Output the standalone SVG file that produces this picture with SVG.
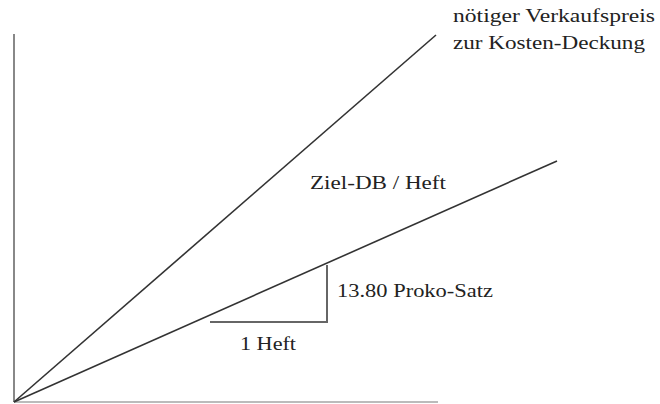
<svg xmlns="http://www.w3.org/2000/svg" width="660" height="404" viewBox="0 0 660 404">
<style>
.ax{stroke:#888;stroke-width:2;fill:none}
.ln{stroke:#333;stroke-width:1.6;fill:none}
.tri{stroke:#666;stroke-width:2;fill:none}
.t{font-size:18px;fill:#222}
</style>
<rect width="660" height="404" fill="#fff"/>
<g id="connectors">
<path class="ax" d="M14 34 V402"/>
<path class="ax" d="M14 402 H438" stroke="#bbb" style="stroke:#bbb"/>
<path class="ln" d="M14 402 L436 35"/>
<path class="ln" d="M14 402 L557 161"/>
<path class="tri" d="M327 265 V322 H210"/>
</g>
<g font-family="'Liberation Serif', 'DejaVu Serif', serif">
<g id="label-verkauf">
<text class="t" x="453" y="22" textLength="202" lengthAdjust="spacingAndGlyphs">nötiger Verkaufspreis</text>
<text class="t" x="453" y="49" textLength="192" lengthAdjust="spacingAndGlyphs">zur Kosten-Deckung</text>
</g>
<g id="label-ziel"><text class="t" x="310" y="189" textLength="136" lengthAdjust="spacingAndGlyphs">Ziel-DB / Heft</text></g>
<g id="label-proko"><text class="t" x="337" y="297" textLength="156" lengthAdjust="spacingAndGlyphs">13.80 Proko-Satz</text></g>
<g id="label-heft"><text class="t" x="240" y="350" textLength="56" lengthAdjust="spacingAndGlyphs">1 Heft</text></g>
</g>
</svg>
